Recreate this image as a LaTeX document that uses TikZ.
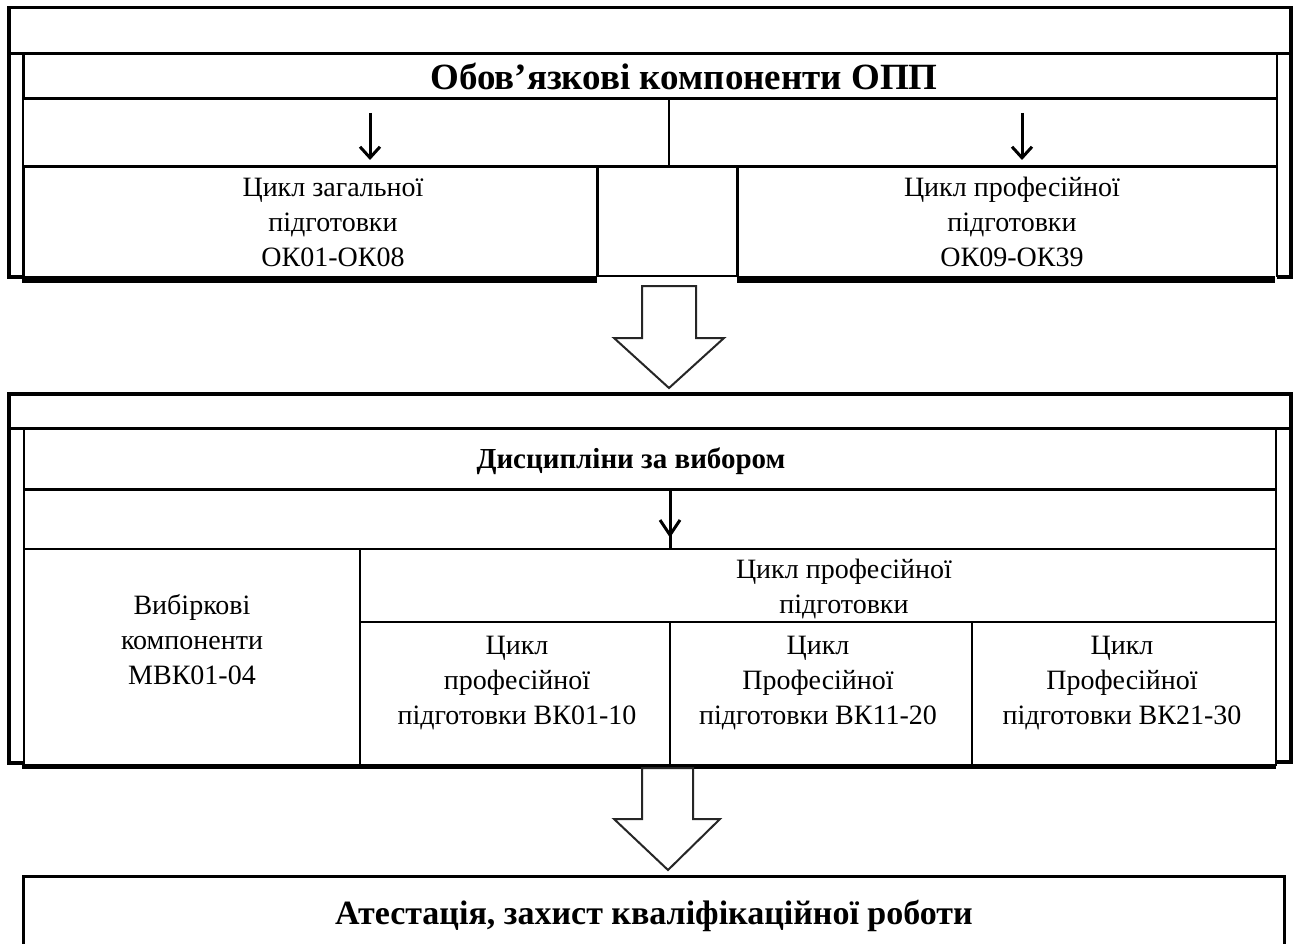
\documentclass[tikz,border=0pt]{standalone}
\usepackage{fontspec}
\setmainfont{Liberation Serif}
\usetikzlibrary{arrows.meta}
\tikzset{
  frame/.style={line width=3.5pt, line join=miter},
  rule/.style={line width=3pt},
  thinrule/.style={line width=2pt},
  heavy/.style={line width=7pt},
  txt/.style={font=\fontsize{28}{35}\selectfont, align=center, inner sep=0pt},
  btxt/.style={font=\bfseries\fontsize{37}{44}\selectfont, align=center, inner sep=0pt},
  ftxt/.style={font=\bfseries\fontsize{34}{40}\selectfont, align=center, inner sep=0pt},
  stxt/.style={font=\bfseries\fontsize{29}{34}\selectfont, align=center, inner sep=0pt},
  hollow/.style={line width=2pt, draw=black!85, fill=white, line join=miter},
  downarrow/.style={line width=3pt, -{Straight Barb[length=11pt,width=20pt,line width=3pt]}}
}
\begin{document}
\begin{tikzpicture}[x=1pt,y=-1pt]
\clip (0,0) rectangle (1297,944);
\fill[white] (0,0) rectangle (1297,944);

% ---------- top block ----------
\draw[frame] (23,277) -- (9,277) -- (9,7.5) -- (1291,7.5) -- (1291,277) -- (1277,277);
\draw[rule] (9,54) -- (1291,54);
\draw[rule] (23,54) -- (23,99);
\draw[thinrule] (23,99) -- (23,167);
\draw[rule] (23,167) -- (23,282);
\draw[thinrule] (1277,54) -- (1277,277);
\draw[rule] (23,99) -- (1277,99);
\draw[thinrule] (669,99) -- (669,167);
\draw[rule] (23,167) -- (1277,167);
\draw[rule] (597,167) -- (597,277);
\draw[rule] (737,167) -- (737,277);
\draw[thinrule] (597,276) -- (737,276);
\draw[heavy] (22,279.5) -- (597,279.5);
\draw[heavy] (737,279.5) -- (1275,279.5);

\node[btxt] (title) at (684,76) {Обов’язкові компоненти ОПП};
\coordinate (a1s) at (370,113);
\coordinate (a1e) at (370,160);
\coordinate (a2s) at (1022,113);
\coordinate (a2e) at (1022,160);
\draw[downarrow] (a1s) -- (a1e);
\draw[downarrow] (a2s) -- (a2e);

\node[txt] (gen) at (333,222) {Цикл загальної\\підготовки\\ОК01-ОК08};
\node[txt] (prof) at (1012,222) {Цикл професійної\\підготовки\\ОК09-ОК39};

% ---------- hollow arrow 1 ----------
\draw[hollow] (642,286) -- (696,286) -- (696,338) -- (724,338) -- (669,388) -- (614,338) -- (642,338) -- cycle;

% ---------- middle block ----------
\draw[frame] (24,763) -- (9,763) -- (9,394) -- (1291,394) -- (1291,762) -- (1276,762);
\draw[rule] (9,428) -- (1291,428);
\draw[thinrule] (24,428) -- (24,766);
\draw[thinrule] (1276,428) -- (1276,766);
\draw[rule] (24,489) -- (1276,489);
\draw[thinrule] (24,549) -- (1276,549);
\draw[thinrule] (360,622) -- (1276,622);
\draw[thinrule] (360,549) -- (360,766);
\draw[thinrule] (670,622) -- (670,766);
\draw[thinrule] (972,622) -- (972,766);
\draw[line width=5pt] (22,766) -- (1276,766);

\node[stxt] (elect) at (631,461) {Дисципліни за вибором};
\coordinate (a3s) at (670,489);
\coordinate (a3e) at (670,549);
\draw[line width=3pt] (a3s) -- (a3e);
\draw[line width=3pt] (660,520) -- (670,535) -- (680,520);

\node[txt] (mvk) at (192,640) {Вибіркові\\компоненти\\МВК01-04};
\node[txt] (pc) at (844,589) {Цикл професійної\\підготовки};
\node[txt] (vk1) at (517,683) {Цикл\\професійної\\підготовки ВК01-10};
\node[txt] (vk2) at (818,683) {Цикл\\Професійної\\підготовки ВК11-20};
\node[txt] (vk3) at (1122,683) {Цикл\\Професійної\\підготовки ВК21-30};

% ---------- hollow arrow 2 ----------
\draw[hollow] (642,768) -- (693,768) -- (693,819) -- (720,819) -- (668,870) -- (614,819) -- (642,819) -- cycle;

% ---------- bottom box ----------
\draw[rule] (23.5,960) -- (23.5,876.3) -- (1284.7,876.3) -- (1284.7,960);
\node[ftxt] (att) at (654,916) {Атестація, захист кваліфікаційної роботи};
\end{tikzpicture}
\end{document}
